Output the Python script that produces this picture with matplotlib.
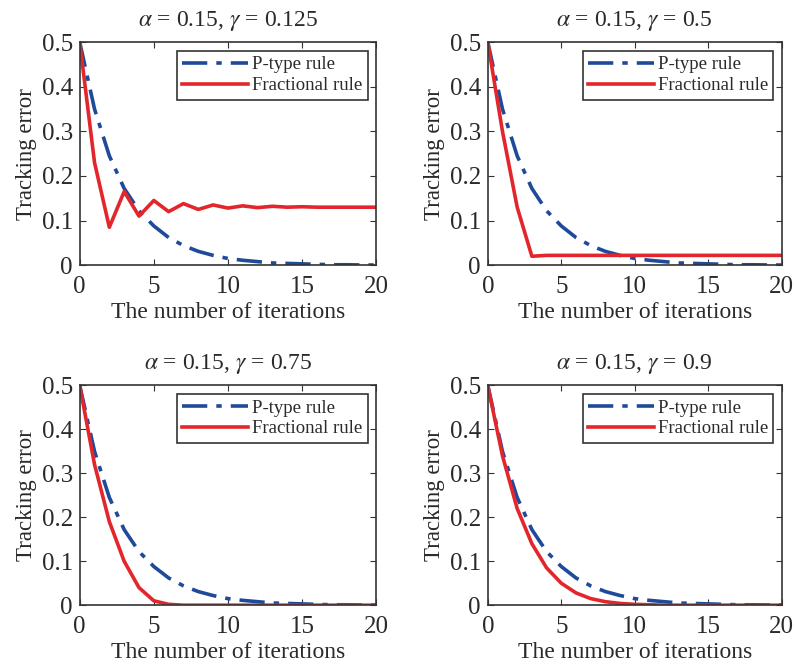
import matplotlib
matplotlib.use("Agg")
import matplotlib.pyplot as plt
import numpy as np

plt.rcParams['font.family'] = ['Liberation Serif', 'DejaVu Serif']
plt.rcParams['mathtext.fontset'] = 'stix'
plt.rcParams['text.color'] = '#2a2a2a'
plt.rcParams['xtick.color'] = '#2a2a2a'
plt.rcParams['ytick.color'] = '#2a2a2a'
plt.rcParams['axes.labelcolor'] = '#2a2a2a'

iterations = np.arange(21)

# P-type rule, same in every panel
p_type = [0.5, 0.35, 0.245, 0.172, 0.122, 0.088, 0.062, 0.044, 0.031, 0.022, 0.015,
          0.011, 0.008, 0.005, 0.004, 0.003, 0.002, 0.001, 0.001, 0.0005, 0.0003]

frac_0125 = [0.5, 0.23, 0.085, 0.165, 0.11, 0.145, 0.12, 0.138, 0.125, 0.135, 0.128,
             0.133, 0.129, 0.132, 0.13, 0.131, 0.13, 0.13, 0.13, 0.13, 0.13]
frac_05 = [0.5, 0.3, 0.13, 0.02, 0.022, 0.022, 0.022, 0.022, 0.022, 0.022, 0.022,
           0.022, 0.022, 0.022, 0.022, 0.022, 0.022, 0.022, 0.022, 0.022, 0.022]
frac_075 = [0.5, 0.32, 0.19, 0.10, 0.04, 0.01, 0.002, 0.0, 0.0, 0.0, 0.0,
            0.0, 0.0, 0.0, 0.0, 0.0, 0.0, 0.0, 0.0, 0.0, 0.0]
frac_09 = [0.5, 0.34, 0.22, 0.14, 0.085, 0.05, 0.028, 0.015, 0.008, 0.004, 0.002,
           0.001, 0.0, 0.0, 0.0, 0.0, 0.0, 0.0, 0.0, 0.0, 0.0]

titles = [r'$\alpha$ = 0.15, $\gamma$ = 0.125', r'$\alpha$ = 0.15, $\gamma$ = 0.5',
          r'$\alpha$ = 0.15, $\gamma$ = 0.75', r'$\alpha$ = 0.15, $\gamma$ = 0.9']
fractional = [frac_0125, frac_05, frac_075, frac_09]

positions = [[0.100, 0.603, 0.372, 0.334],
             [0.612, 0.603, 0.369, 0.334],
             [0.100, 0.094, 0.372, 0.329],
             [0.612, 0.094, 0.369, 0.329]]

blue = '#1f4a9a'
red = '#e3262b'

fig = plt.figure(figsize=(7.97, 6.68), dpi=100)

for i in range(4):
    ax = fig.add_axes(positions[i])
    ax.plot(iterations, p_type, color=blue, linewidth=2.6, label='P-type rule',
            dashes=[7, 2.5, 1.5, 2.5])
    ax.plot(iterations, fractional[i], color=red, linestyle='-', linewidth=2.6, label='Fractional rule')
    ax.set_xlim(0, 20)
    ax.set_ylim(0, 0.5)
    ax.set_xticks([0, 5, 10, 15, 20])
    ax.set_yticks([0, 0.1, 0.2, 0.3, 0.4, 0.5])
    ax.set_yticklabels(['0', '0.1', '0.2', '0.3', '0.4', '0.5'])
    ax.tick_params(direction='in', top=True, right=True, labelsize=18, length=4,
                   color='#333333')
    ax.tick_params(axis='x', pad=8)
    ax.tick_params(axis='y', pad=5)
    for s in ax.spines.values():
        s.set_color('#333333')
        s.set_linewidth(1.2)
    ax.set_title(titles[i], fontsize=17, pad=11.5)
    ax.set_xlabel('The number of iterations', fontsize=17, labelpad=3)
    ax.set_ylabel('Tracking error', fontsize=16.5, labelpad=3)
    leg = ax.legend(loc='upper right', fontsize=13.5, handlelength=3.5, fancybox=False,
                    framealpha=1, edgecolor='#333333', borderpad=0.3, labelspacing=0.2,
                    handletextpad=0.2, borderaxespad=0.45)
    leg.get_frame().set_linewidth(1.2)

fig.savefig('out.png', dpi=100)
